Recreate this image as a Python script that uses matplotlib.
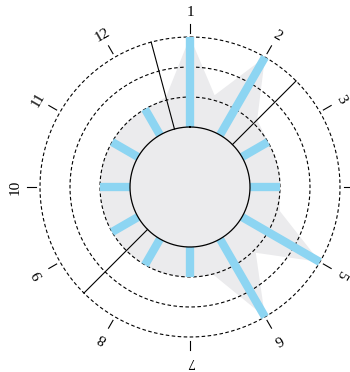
import numpy as np
import matplotlib
matplotlib.use('Agg')
import matplotlib.pyplot as plt

# Clock positions and radial values
labels = ['1', '2', '3', '4', '5', '6', '7', '8', '9', '10', '11', '12']
bar_values = [150, 150, 90, 90, 150, 150, 90, 90, 90, 90, 90, 90]
# values of the shaded profile halfway between neighbouring bars
mid_values = [95, 95, 90, 93, 93, 91, 90, 90, 90, 90, 90, 93]
inner_r = 60
rings = [90, 120, 150]
line_angles = [345, 45, 225]

gray = '#ebebed'
blue = '#8dd5f2'

fig = plt.figure(figsize=(3.5, 3.72), dpi=100)
# centre of the dial at (190, 187) px from top-left, 1 data unit = 1 px
rmax = 185
ax = fig.add_axes([(190 - rmax) / 350, (372 - 187 - rmax) / 372,
                   2 * rmax / 350, 2 * rmax / 372], projection='polar')
ax.set_theta_zero_location('N')
ax.set_theta_direction(-1)
ax.set_rlim(0, rmax)
ax.set_axis_off()

bar_theta = np.deg2rad(np.arange(12) * 30)
mid_theta = bar_theta + np.deg2rad(15)

# shaded profile (star polygon)
poly_t = np.ravel(np.column_stack([bar_theta, mid_theta]))
poly_r = np.ravel(np.column_stack([bar_values, mid_values]))
ax.fill(poly_t, poly_r, color=gray, lw=0, zorder=1)

full = np.linspace(0, 2 * np.pi, 721)
ax.fill(full, np.full_like(full, rings[0]), color=gray, lw=0, zorder=1)

# dashed rings
for r in rings:
    ax.plot(full, np.full_like(full, r), color='black', lw=0.8,
            ls=(0, (3.2, 2.2)), zorder=2)

# blue spokes
for t, v in zip(bar_theta, bar_values):
    ax.plot([t, t], [inner_r, v], color=blue, lw=6, solid_capstyle='butt', zorder=3)

# inner disc
ax.fill(full, np.full_like(full, inner_r), color=gray, lw=0, zorder=4)
ax.plot(full, np.full_like(full, inner_r), color='black', lw=0.9, zorder=5)

# thin black reference lines
for a in line_angles:
    t = np.deg2rad(a)
    ax.plot([t, t], [inner_r, rings[-1]], color='black', lw=0.8, zorder=5)

# ticks and clock labels (the label at 3 o'clock falls off the page, as in the original)
for t, lab in zip(bar_theta, labels):
    ax.plot([t, t], [154, 163], color='black', lw=0.8, zorder=5)
    x_px = 190 + 175 * np.sin(t)
    if x_px > 350 - 5:
        continue
    ax.text(t, 175, lab, rotation=-np.rad2deg(t), rotation_mode='anchor',
            ha='center', va='center', fontsize=11, family='Liberation Serif')

fig.savefig('out.png', dpi=100)
